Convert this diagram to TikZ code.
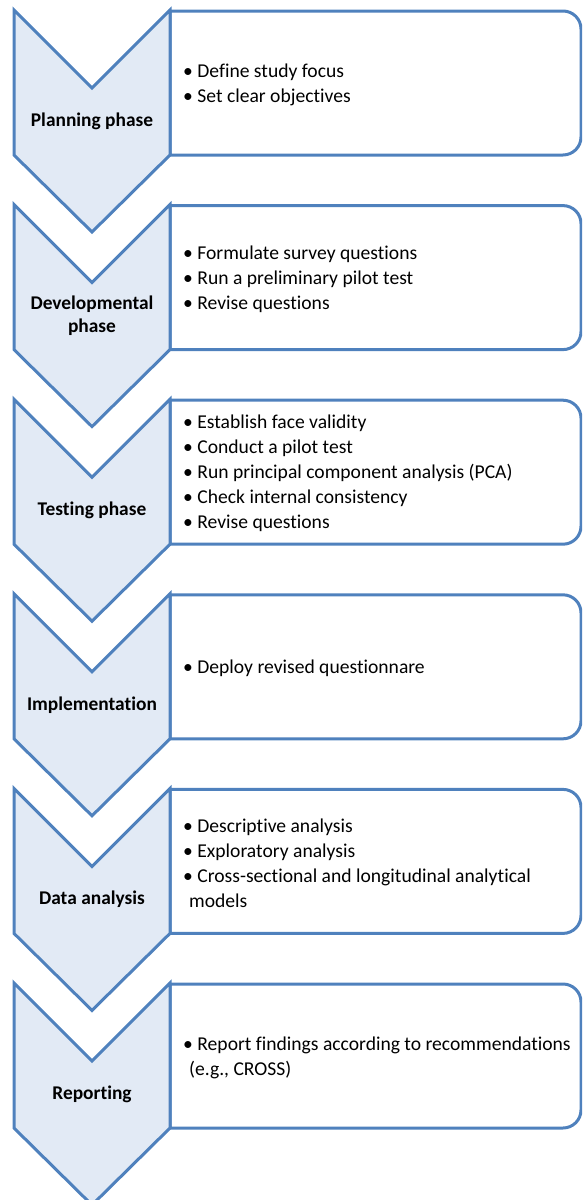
\documentclass[tikz,border=0pt]{standalone}
\usepackage{fontspec}
\setmainfont[Ligatures=NoCommon]{Carlito}
\definecolor{edge}{HTML}{4F81BD}
\definecolor{chfill}{HTML}{E2EAF5}
\begin{document}
\begin{tikzpicture}[x=1pt,y=-1pt,
  chev/.style={draw=edge,fill=chfill,line width=3pt,line join=miter},
  infobox/.style={draw=edge,fill=white,line width=3pt},
  phase/.style={font=\fontsize{19.4}{22.5}\selectfont\bfseries,align=center,anchor=center},
  items/.style={font=\fontsize{19.6}{25}\selectfont,align=left,anchor=west,inner sep=0pt}]
\useasboundingbox (0,0) rectangle (582,1200);
\begin{scope}
\clip (0,0) rectangle (582,1200);
\foreach \i/\lab/\txt in {
 0/{Planning phase}/{• Define study focus\\• Set clear objectives},
 1/{Developmental\\phase}/{• Formulate survey questions\\• Run a preliminary pilot test\\• Revise questions},
 2/{Testing phase}/{• Establish face validity\\• Conduct a pilot test\\• Run principal component analysis (PCA)\\• Check internal consistency\\• Revise questions},
 3/{Implementation}/{• Deploy revised questionnare},
 4/{Data analysis}/{• Descriptive analysis\\• Exploratory analysis\\• Cross-sectional and longitudinal analytical\\\hspace*{6pt}models},
 5/{Reporting}/{• Report findings according to recommendations\\\hspace*{6pt}(e.g., CROSS)}}
{
  \pgfmathsetmacro{\yo}{10+194.6*\i}
  \draw[infobox] (170,\yo+1) -- (563,\yo+1) arc[start angle=-90,end angle=0,radius=18] -- (581,\yo+127) arc[start angle=0,end angle=90,radius=18] -- (170,\yo+145) -- cycle;
  \draw[chev] (14,\yo) -- (92,\yo+78) -- (170,\yo) -- (170,\yo+145) -- (92,\yo+222) -- (14,\yo+145) -- cycle;
  \node[phase] (p\i) at (92,\yo+111) {\lab};
  \node[items] (t\i) at (183,\yo+74.5) {\txt};
}
\end{scope}
\end{tikzpicture}
\end{document}
